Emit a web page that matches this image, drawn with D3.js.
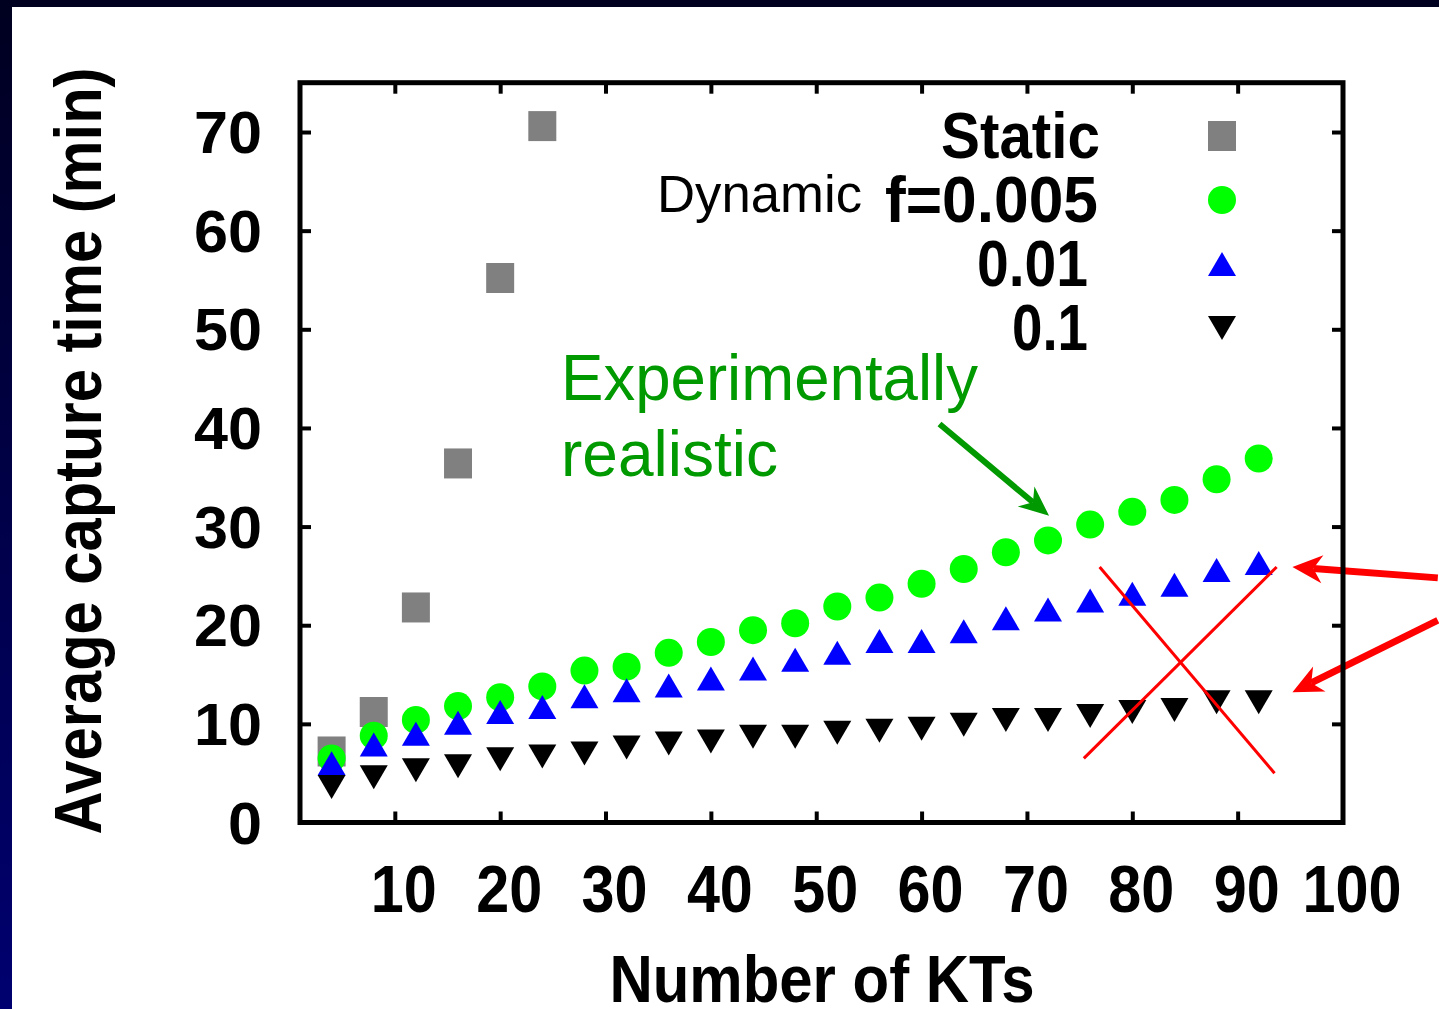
<!DOCTYPE html>
<html>
<head>
<meta charset="utf-8">
<script src="https://cdn.jsdelivr.net/npm/d3@7"></script>
<style>
html, body { margin: 0; padding: 0; background: #fff; }
svg { display: block; }
text { font-family: "Liberation Sans", Arial, Helvetica, sans-serif; }
</style>
</head>
<body>
<svg width="1439" height="1009"></svg>
<script>
// number of KTs for the dynamic runs
const ktValues = [4, 8, 12, 16, 20, 24, 28, 32, 36, 40, 44, 48, 52, 56, 60, 64, 68, 72, 76, 80, 84, 88, 92];
// static model only goes up to 24 KTs
const staticKT = [4, 8, 12, 16, 20, 24];
const staticTime = [7.2, 11.2, 21.8, 36.4, 55.2, 70.6];
// average capture time (min), dynamic model
const dynF005 = [6.5, 8.8, 10.4, 11.8, 12.7, 13.8, 15.4, 15.8, 17.2, 18.3, 19.5, 20.2, 21.9, 22.8, 24.2, 25.7, 27.4, 28.6, 30.2, 31.5, 32.7, 34.8, 36.9];
const dynF001 = [6.0, 7.9, 9.0, 10.1, 11.2, 11.7, 12.8, 13.4, 13.9, 14.6, 15.6, 16.5, 17.2, 18.4, 18.4, 19.4, 20.7, 21.6, 22.5, 23.2, 24.1, 25.6, 26.3];
const dynF01 = [3.6, 4.6, 5.3, 5.7, 6.4, 6.7, 7.0, 7.6, 8.0, 8.2, 8.7, 8.7, 9.1, 9.3, 9.5, 9.9, 10.4, 10.4, 10.8, 11.2, 11.4, 12.2, 12.2];

const xTicks = [10, 20, 30, 40, 50, 60, 70, 80, 90, 100];
const yTicks = [0, 10, 20, 30, 40, 50, 60, 70];
const legendLabels = ["Static", "f=0.005", "0.01", "0.1"];

// annotation lines, in data coordinates [x1, y1, x2, y2]
const greenArrow = [61.7, 40.4, 72.1, 31.1];
const redArrows = [[109, 24.8, 95.2, 25.9], [109, 20.5, 95.2, 13.2]];
const redCross = [[76.9, 25.9, 93.5, 5.0], [75.4, 6.5, 93.7, 25.9]];

const svg = d3.select("svg");

// slide background: navy gradient border, white content
const defs = svg.append("defs");
const grad = defs.append("linearGradient").attr("id", "navy")
    .attr("x1", 0).attr("y1", 0).attr("x2", 0).attr("y2", 1);
grad.append("stop").attr("offset", "0%").attr("stop-color", "#000020");
grad.append("stop").attr("offset", "100%").attr("stop-color", "#000070");
svg.append("rect").attr("width", 1439).attr("height", 1009).attr("fill", "url(#navy)");
svg.append("rect").attr("x", 12).attr("y", 7).attr("width", 1427).attr("height", 1002).attr("fill", "#fff");

// scales
const x = d3.scaleLinear().domain([1, 100]).range([300, 1343]);
const y = d3.scaleLinear().domain([0, 75]).range([822.5, 82.7]);

const colors = {stat: "#808080", f005: "#00ff00", f001: "#0000ff", f01: "#000000"};

function marker(type) {
    if (type === "square") return "M-14,-15H14V15H-14Z";
    if (type === "circle") return "M-14,0A14,14 0 1,0 14,0A14,14 0 1,0 -14,0Z";
    if (type === "up") return "M0,-12L14,12L-14,12Z";
    return "M0,12L14,-12L-14,-12Z";
}

// ticks inside the frame (bottom/top/left/right)
const tickLen = 11;
svg.append("g")
    .attr("transform", "translate(0," + y.range()[0] + ")")
    .call(d3.axisBottom(x).tickValues(xTicks.filter(d => d < 100)).tickSizeInner(-tickLen).tickSizeOuter(0).tickFormat(""))
    .call(g => g.select(".domain").remove())
    .call(g => g.selectAll("line").attr("stroke-width", 4));
svg.append("g")
    .attr("transform", "translate(0," + y.range()[1] + ")")
    .call(d3.axisTop(x).tickValues(xTicks.filter(d => d < 100)).tickSizeInner(-tickLen).tickSizeOuter(0).tickFormat(""))
    .call(g => g.select(".domain").remove())
    .call(g => g.selectAll("line").attr("stroke-width", 4));
svg.append("g")
    .attr("transform", "translate(" + x.range()[0] + ",0)")
    .call(d3.axisLeft(y).tickValues(yTicks.filter(d => d > 0)).tickSizeInner(-tickLen).tickSizeOuter(0).tickFormat(""))
    .call(g => g.select(".domain").remove())
    .call(g => g.selectAll("line").attr("stroke-width", 4));
svg.append("g")
    .attr("transform", "translate(" + x.range()[1] + ",0)")
    .call(d3.axisRight(y).tickValues(yTicks.filter(d => d > 0)).tickSizeInner(-tickLen).tickSizeOuter(0).tickFormat(""))
    .call(g => g.select(".domain").remove())
    .call(g => g.selectAll("line").attr("stroke-width", 4));

// tick labels
svg.append("g").selectAll("text")
    .data(xTicks)
    .enter().append("text")
    .attr("x", d => x(d) + 9)
    .attr("y", 912)
    .attr("text-anchor", "middle")
    .attr("font-size", 66)
    .attr("font-weight", "bold")
    .attr("textLength", d => String(d).length * 33)
    .attr("lengthAdjust", "spacingAndGlyphs")
    .text(d => d);

svg.append("g").selectAll("text")
    .data(yTicks)
    .enter().append("text")
    .attr("x", 262)
    .attr("y", d => y(d) + 21)
    .attr("text-anchor", "end")
    .attr("font-size", 60)
    .attr("font-weight", "bold")
    .attr("textLength", d => String(d).length * 34)
    .attr("lengthAdjust", "spacingAndGlyphs")
    .text(d => d);

// axis titles
svg.append("text")
    .attr("x", 822).attr("y", 1002)
    .attr("text-anchor", "middle")
    .attr("font-size", 66)
    .attr("font-weight", "bold")
    .attr("textLength", 425)
    .attr("lengthAdjust", "spacingAndGlyphs")
    .text("Number of KTs");

svg.append("text")
    .attr("transform", "translate(101,451) rotate(-90)")
    .attr("text-anchor", "middle")
    .attr("font-size", 66)
    .attr("font-weight", "bold")
    .attr("textLength", 767)
    .attr("lengthAdjust", "spacingAndGlyphs")
    .text("Average capture time (min)");

// data points
function drawSeries(xs, ys, type, color) {
    svg.append("g").selectAll("path")
        .data(d3.zip(xs, ys))
        .enter().append("path")
        .attr("transform", d => "translate(" + x(d[0]) + "," + y(d[1]) + ")")
        .attr("d", marker(type))
        .attr("fill", color);
}
drawSeries(staticKT, staticTime, "square", colors.stat);
drawSeries(ktValues, dynF005, "circle", colors.f005);
drawSeries(ktValues, dynF001, "up", colors.f001);
drawSeries(ktValues, dynF01, "down", colors.f01);

// legend
const legendTypes = ["square", "circle", "up", "down"];
const legendColors = [colors.stat, colors.f005, colors.f001, colors.f01];
const legendRight = [1100, 1098, 1088, 1088];
const legendWidth = [159, 213, 111, 76];
const legend = svg.append("g");
legendLabels.forEach((lab, i) => {
    const cy = 136 + i * 64;
    legend.append("text")
        .attr("x", legendRight[i]).attr("y", cy + 22)
        .attr("text-anchor", "end")
        .attr("font-size", 64)
        .attr("font-weight", "bold")
        .attr("textLength", legendWidth[i])
        .attr("lengthAdjust", "spacingAndGlyphs")
        .text(lab);
    legend.append("path")
        .attr("transform", "translate(1222," + cy + ")")
        .attr("d", marker(legendTypes[i]))
        .attr("fill", legendColors[i]);
});
legend.append("text")
    .attr("x", 657).attr("y", 212)
    .attr("font-size", 51)
    .attr("textLength", 205)
    .attr("lengthAdjust", "spacingAndGlyphs")
    .text("Dynamic");

// annotations
function arrowHead(g, x1, y1, x2, y2, len, half, color) {
    const dx = x2 - x1, dy = y2 - y1, l = Math.hypot(dx, dy);
    const ux = dx / l, uy = dy / l, nx = -uy, ny = ux;
    const bx = x2 - ux * len, by = y2 - uy * len;
    const pts = [[x2, y2], [bx + nx * half, by + ny * half],
                 [x2 - ux * len * 0.7, y2 - uy * len * 0.7], [bx - nx * half, by - ny * half]];
    g.append("path").attr("d", "M" + pts.join("L") + "Z").attr("fill", color);
}
function arrow(a, color, width, len, half) {
    const g = svg.append("g");
    const x1 = x(a[0]), y1 = y(a[1]), x2 = x(a[2]), y2 = y(a[3]);
    const l = Math.hypot(x2 - x1, y2 - y1);
    const ex = x2 - (x2 - x1) / l * len * 0.7, ey = y2 - (y2 - y1) / l * len * 0.7;
    g.append("line").attr("x1", x1).attr("y1", y1).attr("x2", ex).attr("y2", ey)
        .attr("stroke", color).attr("stroke-width", width);
    arrowHead(g, x1, y1, x2, y2, len, half, color);
}

svg.append("g").selectAll("line")
    .data(redCross)
    .enter().append("line")
    .attr("x1", d => x(d[0])).attr("y1", d => y(d[1]))
    .attr("x2", d => x(d[2])).attr("y2", d => y(d[3]))
    .attr("stroke", "#ff0000")
    .attr("stroke-width", 3);

arrow(greenArrow, "#009900", 6, 30, 13);
redArrows.forEach(a => arrow(a, "#ff0000", 7, 30, 14));

svg.append("text")
    .attr("x", 561).attr("y", 400)
    .attr("font-size", 64)
    .attr("fill", "#009900")
    .attr("textLength", 417)
    .attr("lengthAdjust", "spacingAndGlyphs")
    .text("Experimentally");
svg.append("text")
    .attr("x", 561).attr("y", 476)
    .attr("font-size", 64)
    .attr("fill", "#009900")
    .attr("textLength", 217)
    .attr("lengthAdjust", "spacingAndGlyphs")
    .text("realistic");

// plot frame
svg.append("rect")
    .attr("x", x.range()[0]).attr("y", y.range()[1])
    .attr("width", x.range()[1] - x.range()[0])
    .attr("height", y.range()[0] - y.range()[1])
    .attr("fill", "none")
    .attr("stroke", "#000")
    .attr("stroke-width", 5);
</script>
</body>
</html>
